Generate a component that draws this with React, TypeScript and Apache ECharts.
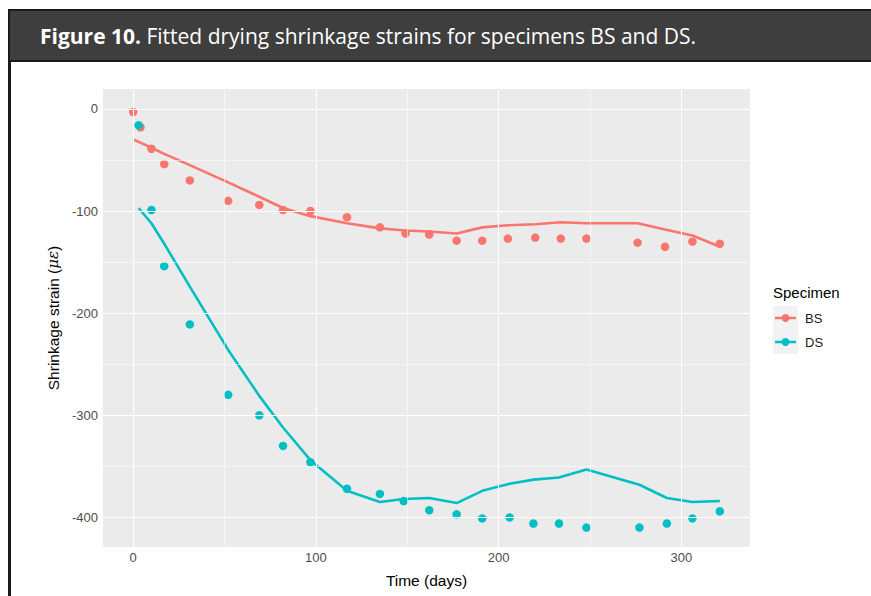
import React, { useEffect, useRef } from "react";
import * as echarts from "echarts";

const bsDays = [0, 4, 10, 17, 31, 52, 69, 82, 97, 117, 135, 149, 162, 177, 191, 205, 220, 234, 248, 276, 291, 306, 321];
const bsObserved = [-3, -18, -39, -54, -70, -90, -94, -99, -100, -106, -116, -122, -123, -129, -129, -127, -126, -127, -127, -131, -135, -130, -132];
const bsFitted = [-30, -33, -38, -44, -55, -72, -86, -97, -105, -112, -117, -119, -120, -122, -116, -114, -113, -111, -112, -112, -118, -124, -135];

const dsDays = [3, 10, 17, 31, 52, 69, 82, 97, 117, 135, 148, 162, 177, 191, 206, 219, 233, 248, 277, 292, 306, 321];
const dsObserved = [-16, -99, -154, -211, -280, -300, -330, -346, -372, -377, -384, -393, -397, -401, -400, -406, -406, -410, -410, -406, -401, -394];
const dsFitted = [-97, -112, -132, -174, -236, -281, -312, -344, -374, -385, -382, -381, -386, -374, -367, -363, -361, -353, -368, -381, -385, -384];

const xMajorTicks = [0, 100, 200, 300];
const xMinorTicks = [50, 150, 250];
const yMajorTicks = [0, -100, -200, -300, -400];
const yMinorTicks = [-50, -150, -250, -350];

const specimens = ["BS", "DS"];
const colors = ["#F8766D", "#00BFC4"];

const titleBold = "Figure 10.";
const titleRest = " Fitted drying shrinkage strains for specimens BS and DS.";

const pair = (xs: number[], ys: number[]) => xs.map((x, i) => [x, ys[i]]);

export default function App() {
  const ref = useRef<HTMLDivElement>(null);
  useEffect(() => {
    if (!ref.current) return;
    const chart = echarts.init(ref.current, null, { renderer: "svg" });
    const font = "Liberation Sans";
    const gridLines = [
      ...xMajorTicks.map((v) => ({ xAxis: v, lineStyle: { width: 1.1 } })),
      ...xMinorTicks.map((v) => ({ xAxis: v, lineStyle: { width: 0.55 } })),
      ...yMajorTicks.map((v) => ({ yAxis: v, lineStyle: { width: 1.1 } })),
      ...yMinorTicks.map((v) => ({ yAxis: v, lineStyle: { width: 0.55 } })),
    ];
    const legendItems = specimens.map((name, i) => ({
      type: "group",
      x: 773,
      y: 306 + i * 24,
      children: [
        { type: "rect", shape: { x: 0, y: 0, width: 25, height: 24 }, style: { fill: "#F2F2F2" } },
        { type: "line", shape: { x1: 2, y1: 12, x2: 23, y2: 12 }, style: { stroke: colors[i], lineWidth: 2.5 } },
        { type: "circle", shape: { cx: 12.5, cy: 12, r: 4 }, style: { fill: colors[i] } },
        {
          type: "text",
          x: 32,
          y: 12.5,
          style: { text: name, fill: "#1a1a1a", font: `13px '${font}'`, verticalAlign: "middle" },
        },
      ],
    }));
    chart.setOption({
      animation: false,
      grid: {
        left: 103,
        top: 89,
        right: 121,
        bottom: 49,
        show: true,
        backgroundColor: "#EBEBEB",
        borderWidth: 0,
      },
      xAxis: {
        type: "value",
        min: -16.5,
        max: 337.5,
        name: "Time (days)",
        nameLocation: "middle",
        nameGap: 25,
        nameTextStyle: { fontFamily: font, fontSize: 15.5, color: "#000" },
        axisLine: { show: false },
        axisTick: { show: true, customValues: xMajorTicks, length: 4, lineStyle: { color: "#333333", width: 1 } },
        axisLabel: { customValues: xMajorTicks, fontFamily: font, fontSize: 13, color: "#4D4D4D", margin: 4 },
        splitLine: { show: false },
      },
      yAxis: {
        type: "value",
        min: -429,
        max: 19.5,
        name: "{a|Shrinkage strain (}{b|με}{a|)}",
        nameLocation: "middle",
        nameGap: 41,
        nameRotate: 90,
        nameTextStyle: {
          rich: {
            a: { fontFamily: font, fontSize: 15.5, color: "#000" },
            b: { fontFamily: "DejaVu Serif", fontStyle: "italic", fontSize: 15, color: "#000" },
          },
        },
        axisLine: { show: false },
        axisTick: { show: true, customValues: yMajorTicks, length: 4, lineStyle: { color: "#333333", width: 1 } },
        axisLabel: { customValues: yMajorTicks, fontFamily: font, fontSize: 13, color: "#4D4D4D", margin: 5 },
        splitLine: { show: false },
      },
      series: [
        {
          type: "scatter",
          data: [],
          z: 1,
          silent: true,
          markLine: {
            silent: true,
            symbol: "none",
            label: { show: false },
            lineStyle: { color: "#FFFFFF", type: "solid" },
            data: gridLines,
          },
        },
        {
          name: "BS fit",
          type: "line",
          data: pair(bsDays, bsFitted),
          showSymbol: false,
          lineStyle: { color: colors[0], width: 2.6 },
          z: 3,
        },
        {
          name: "DS fit",
          type: "line",
          data: pair(dsDays, dsFitted),
          showSymbol: false,
          lineStyle: { color: colors[1], width: 2.6 },
          z: 3,
        },
        {
          name: "BS",
          type: "scatter",
          data: pair(bsDays, bsObserved),
          symbolSize: 8.5,
          itemStyle: { color: colors[0], opacity: 1 },
          z: 4,
        },
        {
          name: "DS",
          type: "scatter",
          data: pair(dsDays, dsObserved),
          symbolSize: 8.5,
          itemStyle: { color: colors[1], opacity: 1 },
          z: 4,
        },
      ],
      graphic: [
        {
          type: "rect",
          shape: { x: 9, y: 10, width: 880, height: 51 },
          style: { fill: "#3E3E3E", stroke: "#1A1A1A", lineWidth: 2 },
          z: 10,
        },
        {
          type: "line",
          shape: { x1: 9.5, y1: 60, x2: 9.5, y2: 600 },
          style: { stroke: "#1A1A1A", lineWidth: 3 },
          z: 10,
        },
        {
          type: "text",
          x: 40,
          y: 36,
          z: 11,
          style: {
            text: `{b|${titleBold}}{r|${titleRest}}`,
            verticalAlign: "middle",
            rich: {
              b: { fontFamily: "Open Sans", fontWeight: "bold", fontSize: 21, fill: "#FFFFFF" },
              r: { fontFamily: "Open Sans", fontSize: 21, fill: "#FFFFFF" },
            },
          },
        },
        {
          type: "text",
          x: 773,
          y: 292,
          style: { text: "Specimen", fill: "#000", font: `15px '${font}'`, verticalAlign: "middle" },
        },
        ...legendItems,
      ],
    });
    return () => chart.dispose();
  }, []);
  return <div ref={ref} style={{ width: 871, height: 596, position: "absolute", left: 0, top: 0 }} />;
}
